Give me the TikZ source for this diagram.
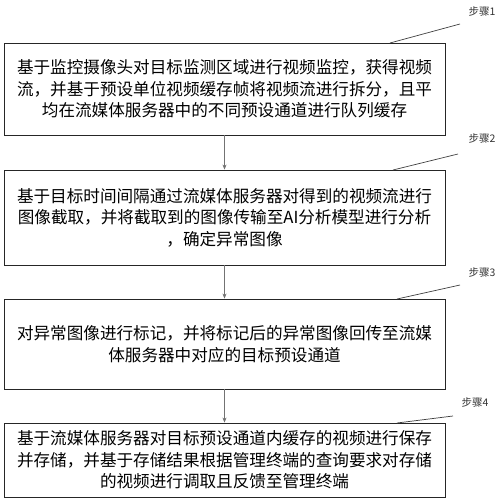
\documentclass[tikz,border=0pt]{standalone}
\usepackage{fontspec}
\newfontfamily\cjk{Noto Sans CJK SC}
\usetikzlibrary{arrows.meta}
\begin{document}
\begin{tikzpicture}[x=1pt,y=-1pt,
    stepbox/.style={draw=black!85,line width=0.9pt,minimum width=441pt,align=center,inner sep=0pt,
        font=\cjk\fontsize{16.6}{21.5}\selectfont},
    steplabel/.style={font=\cjk\fontsize{10.5}{12}\selectfont,inner sep=0pt,text=black!80},
    leader/.style={draw=black!75,line width=0.7pt},
    flow/.style={draw=black!55,line width=0.5pt,-{Stealth[length=5pt,width=4pt]}}]
        \useasboundingbox (0,0) rectangle (500,502);
        \path (224.5,89) node[stepbox,minimum height=92pt] (box1) {基于监控摄像头对目标监测区域进行视频监控，获得视频\\流，并基于预设单位视频缓存帧将视频流进行拆分，且平\\均在流媒体服务器中的不同预设通道进行队列缓存};
        \path (224.5,217.5) node[stepbox,minimum height=95pt] (box2) {基于目标时间间隔通过流媒体服务器对得到的视频流进行\\图像截取，并将截取到的图像传输至AI分析模型进行分析\\，确定异常图像};
        \path (224.5,344) node[stepbox,minimum height=90pt] (box3) {对异常图像进行标记，并将标记后的异常图像回传至流媒\\体服务器中对应的目标预设通道};
        \path (224.5,460) node[stepbox,minimum height=74pt] (box4) {基于流媒体服务器对目标预设通道内缓存的视频进行保存\\并存储，并基于存储结果根据管理终端的查询要求对存储\\的视频进行调取且反馈至管理终端};
        \path (482,11) node[steplabel] (lab1) {步骤1};
        \path (482,138) node[steplabel] (lab2) {步骤2};
        \path (482,272) node[steplabel] (lab3) {步骤3};
        \path (475,402) node[steplabel] (lab4) {步骤4};
        % leader lines
        \coordinate (lead1) at (460,24);
        \coordinate (lead2) at (458,154);
        \coordinate (lead3) at (460,285);
        \coordinate (lead4) at (453,416);
        \coordinate (top1) at (390,43);
        \coordinate (top2) at (393,170);
        \coordinate (top3) at (397,299);
        \coordinate (top4) at (397,423);
        \draw[leader] (lead1) -- (top1);
        \draw[leader] (lead2) -- (top2);
        \draw[leader] (lead3) -- (top3);
        \draw[leader] (lead4) -- (top4);
        % flow
        \draw[flow] (box1) -- (box2);
        \draw[flow] (box2) -- (box3);
        \draw[flow] (box3) -- (box4);
    \end{tikzpicture}
\end{document}
